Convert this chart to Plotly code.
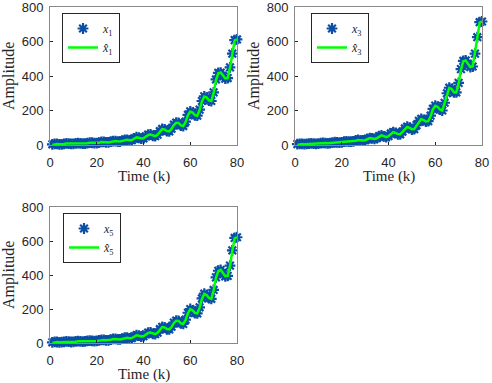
import plotly.graph_objects as go

k = list(range(1, 81))

x1 = [4, 7, 6, 4, 4, 7, 9, 8, 6, 6, 9, 11, 10, 8, 8, 11, 14, 13, 11, 11,
      14, 18, 18, 15, 15, 19, 23, 23, 20, 20, 25, 30, 30, 26, 28, 38, 45, 42, 37, 39,
      50, 60, 61, 53, 51, 60, 80, 93, 90, 80, 79, 95, 118, 130, 128, 113, 110, 135, 175, 195,
      188, 172, 170, 205, 255, 282, 275, 258, 255, 305, 380, 418, 420, 400, 385, 388, 450, 530, 608, 612]
xh1 = [0, 5, 6, 5, 4, 6, 8, 8, 7, 6, 8, 10, 10, 9, 8, 10, 13, 13, 12, 11,
       13, 17, 18, 16, 15, 18, 22, 23, 21, 20, 24, 29, 30, 27, 28, 36, 44, 42, 38, 39,
       48, 58, 60, 54, 51, 59, 78, 92, 90, 81, 79, 93, 116, 129, 128, 114, 110, 133, 172, 194,
       188, 173, 170, 203, 252, 281, 276, 259, 255, 302, 377, 416, 420, 401, 386, 388, 447, 527, 606, 612]

x3 = [5, 7, 6, 5, 6, 8, 9, 8, 7, 8, 11, 12, 11, 10, 11, 14, 16, 15, 14, 15,
      19, 21, 20, 19, 21, 26, 29, 27, 26, 28, 35, 40, 38, 35, 40, 52, 56, 50, 46, 52,
      67, 75, 70, 62, 62, 78, 96, 106, 100, 90, 92, 115, 140, 152, 145, 135, 138, 170, 210, 228,
      222, 205, 200, 245, 300, 332, 325, 305, 305, 360, 440, 488, 490, 470, 452, 455, 530, 625, 712, 716]
xh3 = [0, 5, 6, 5, 6, 7, 9, 8, 7, 8, 10, 12, 11, 10, 11, 13, 16, 15, 14, 15,
       18, 21, 20, 19, 21, 25, 29, 27, 26, 28, 34, 40, 38, 35, 39, 50, 56, 51, 46, 51,
       65, 74, 70, 63, 62, 76, 95, 105, 100, 91, 92, 113, 138, 151, 145, 136, 138, 167, 207, 227,
       222, 206, 200, 242, 297, 331, 325, 306, 305, 357, 436, 486, 490, 471, 452, 455, 527, 622, 710, 716]

x5 = [4, 7, 6, 4, 5, 7, 9, 8, 6, 7, 9, 11, 10, 8, 9, 12, 14, 13, 11, 12,
      15, 18, 18, 15, 16, 20, 24, 24, 21, 21, 26, 31, 31, 27, 29, 39, 46, 43, 38, 40,
      51, 61, 62, 54, 52, 61, 81, 95, 92, 81, 80, 96, 120, 132, 130, 115, 112, 137, 178, 200,
      192, 176, 174, 210, 262, 290, 282, 264, 260, 312, 386, 425, 430, 410, 392, 395, 455, 545, 618, 622]
xh5 = [0, 5, 6, 5, 5, 6, 8, 8, 7, 7, 8, 10, 10, 9, 9, 11, 13, 13, 12, 12,
       14, 17, 18, 16, 16, 19, 23, 24, 22, 21, 25, 30, 31, 28, 29, 37, 45, 43, 39, 40,
       49, 59, 61, 55, 52, 60, 79, 94, 92, 82, 80, 94, 118, 131, 130, 116, 112, 135, 175, 199,
       192, 177, 174, 208, 259, 289, 282, 265, 260, 309, 383, 423, 430, 411, 393, 395, 452, 542, 616, 622]

series = [(x1, xh1, "1"), (x3, xh3, "3"), (x5, xh5, "5")]

BLUE = "#0a4ea6"
GREEN = "#00ff00"
AXC = "#262626"
SANS = "Liberation Sans, Arial, sans-serif"
SERIF = "Liberation Serif, Times New Roman, serif"

W, H = 492, 383
# panel pixel boxes: (left, right, top, bottom)
boxes = [(50, 237, 7, 145), (295, 482, 7, 145), (50, 237, 207, 343)]
legpos = [(62, 13), (311, 13), (63, 213)]

fig = go.Figure()
annotations = []
layout = {}
for i, ((xs, xh, idx), (l, r, t, b), (lx, ly)) in enumerate(zip(series, boxes, legpos)):
    n = i + 1
    xa = "x" if n == 1 else f"x{n}"
    ya = "y" if n == 1 else f"y{n}"
    lg = "legend" if n == 1 else f"legend{n}"
    fig.add_trace(go.Scatter(
        x=k, y=xs, mode="markers", xaxis=xa, yaxis=ya, legend=lg,
        name=f"<i>x</i><sub>{idx}</sub>", cliponaxis=False,
        marker=dict(symbol="asterisk-open", size=9, color=BLUE,
                    line=dict(color=BLUE, width=2.2))))
    fig.add_trace(go.Scatter(
        x=k, y=xh, mode="lines", xaxis=xa, yaxis=ya, legend=lg,
        name=f"<i>x\u0302</i><sub>{idx}</sub>", cliponaxis=False,
        line=dict(color=GREEN, width=2.5)))
    axcommon = dict(showgrid=False, zeroline=False, showline=True, mirror=True,
                    linecolor="#888888", linewidth=1, ticks="inside", ticklen=3,
                    tickcolor=AXC, tickfont=dict(family=SANS, size=13, color=AXC),
                    automargin=False, ticklabeloverflow="allow")
    layout["xaxis" if n == 1 else f"xaxis{n}"] = dict(
        domain=[l / W, r / W], range=[0, 80], tickvals=[0, 20, 40, 60, 80],
        anchor=ya, ticklabelstandoff=5, **axcommon)
    layout["yaxis" if n == 1 else f"yaxis{n}"] = dict(
        domain=[1 - b / H, 1 - t / H], range=[0, 800],
        tickvals=[0, 200, 400, 600, 800], anchor=xa, ticklabelstandoff=3, **axcommon)
    layout[lg] = dict(x=lx / W, y=1 - ly / H, xanchor="left", yanchor="top",
                      bordercolor="#262626", borderwidth=1, bgcolor="white",
                      font=dict(family=SERIF, size=12, color=AXC),
                      itemwidth=30, tracegroupgap=0)
    annotations.append(dict(text="Time (k)", x=((l + r) / 2) / W, y=1 - (b + 31) / H,
                            xref="paper", yref="paper", showarrow=False,
                            xanchor="center", yanchor="middle",
                            font=dict(family=SERIF, size=15, color=AXC)))
    annotations.append(dict(text="Amplitude", x=(l - 41) / W, y=1 - ((t + b) / 2) / H,
                            xref="paper", yref="paper", showarrow=False, textangle=-90,
                            xanchor="center", yanchor="middle",
                            font=dict(family=SERIF, size=16, color=AXC)))

fig.update_layout(width=W, height=H, margin=dict(l=0, r=0, t=0, b=0),
                  paper_bgcolor="white", plot_bgcolor="white",
                  annotations=annotations, **layout)
fig.write_html("out.html", config={"displayModeBar": False},
               post_script="document.body.style.margin='0';document.body.style.overflow='hidden';")
